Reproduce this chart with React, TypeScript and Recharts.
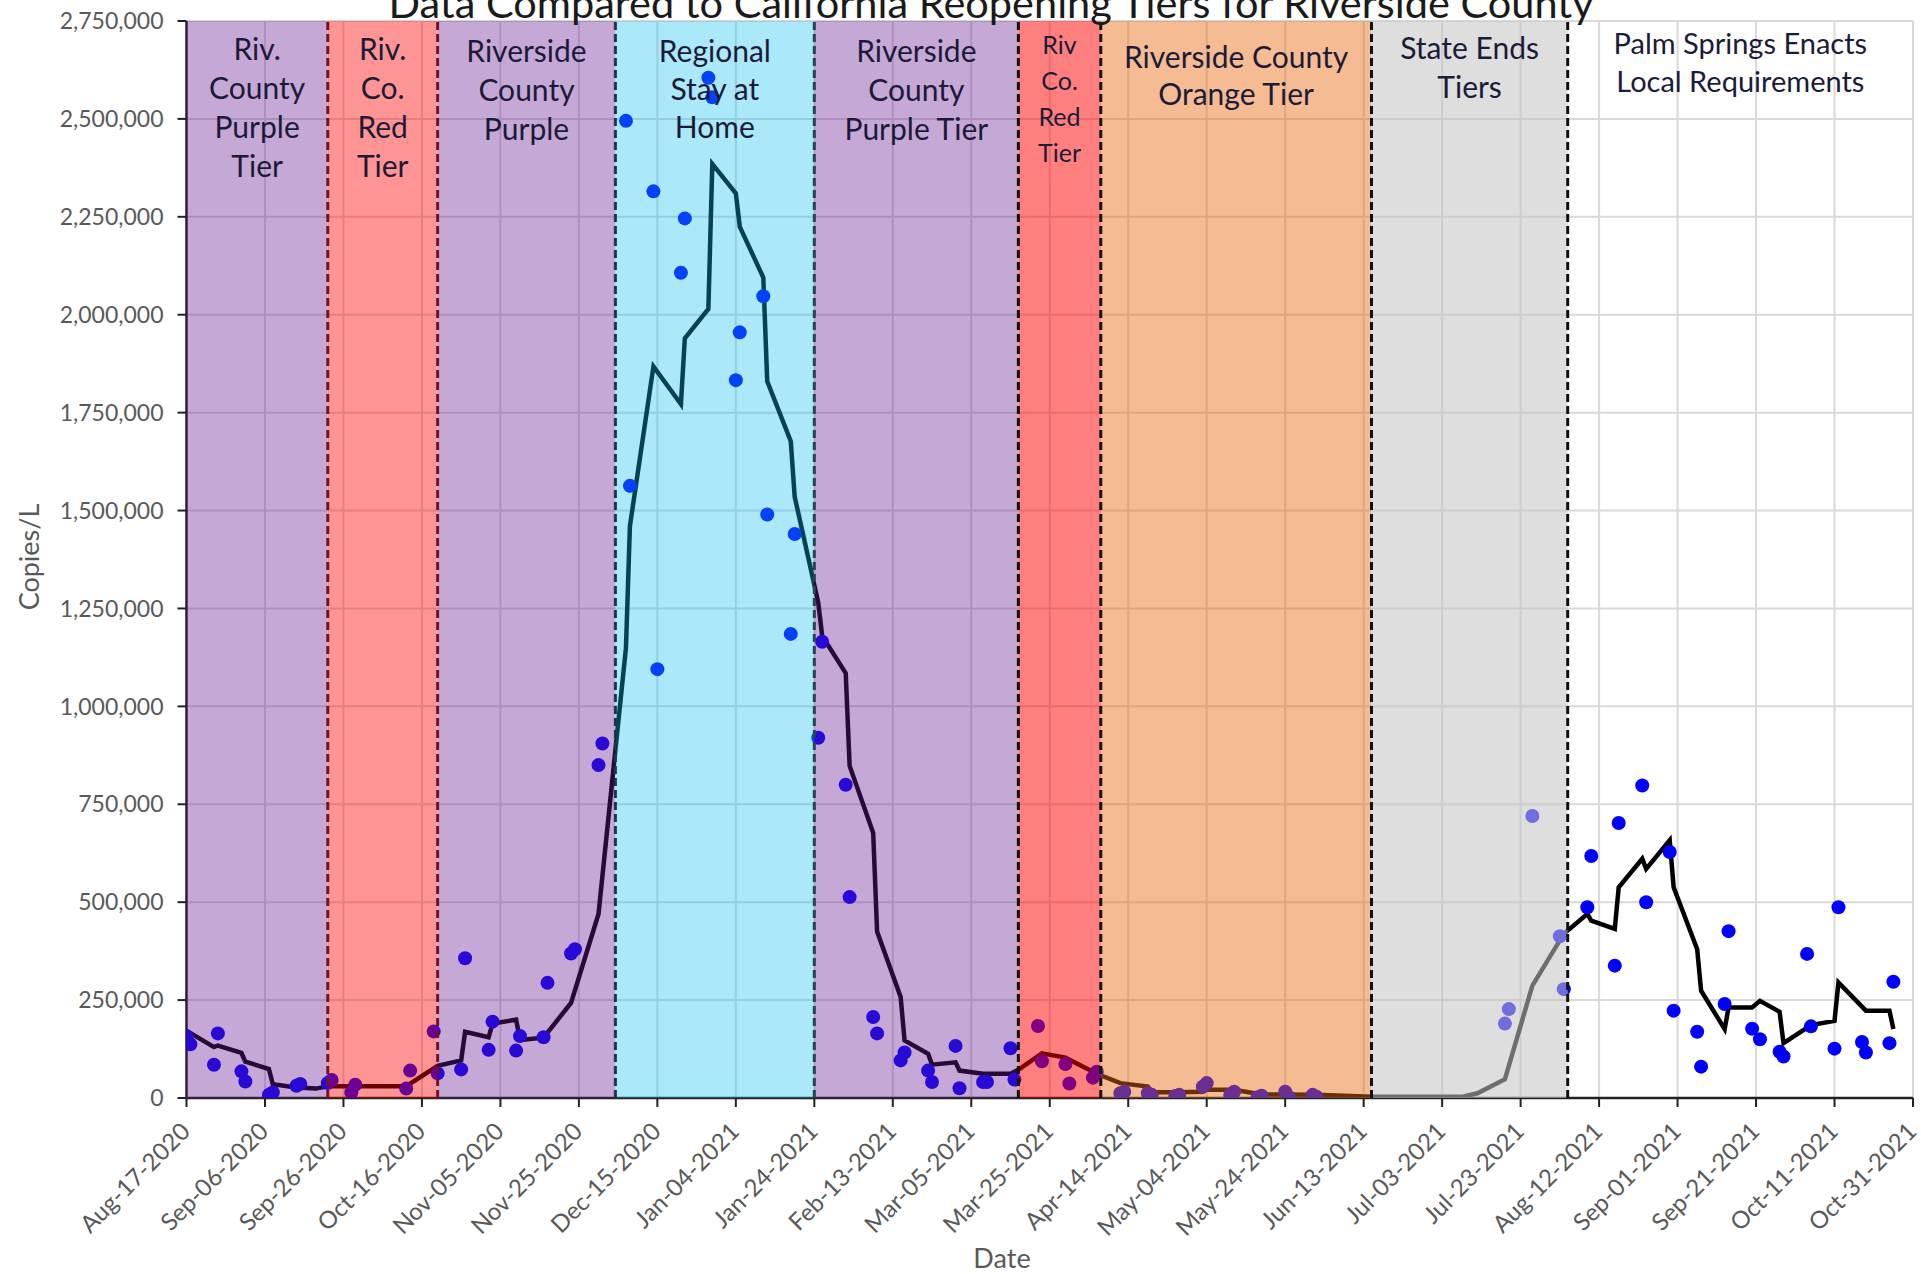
import React from "react";
import {
  CartesianGrid,
  ComposedChart,
  Line,
  ReferenceArea,
  ReferenceLine,
  Scatter,
  XAxis,
  YAxis,
} from "recharts";

// Days are counted from Aug-17-2020 (day 0); values are copies per litre.
const samples: [number, number][] = [
  [0, 157000], [1, 137000], [7, 85000], [8, 165000], [14, 68000], [15, 42000],
  [21, 8000], [22, 14000], [28, 31000], [29, 36000], [36, 38000], [37, 46000],
  [42, 14000], [43, 34000], [56, 24000], [57, 70000], [63, 170000], [64, 63000],
  [70, 73000], [71, 357000], [77, 123000], [78, 195000], [84, 121000], [85, 158000],
  [91, 155000], [92, 294000], [98, 369000], [99, 380000],
  [105, 850000], [106, 905000], [112, 2495000], [113, 1563000], [119, 2315000],
  [120, 1095000], [126, 2107000], [127, 2246000], [133, 2605000], [134, 2555000],
  [140, 1833000], [141, 1955000], [147, 2047000], [148, 1490000], [154, 1185000],
  [155, 1440000], [161, 920000], [162, 1165000],
  [168, 800000], [169, 513000], [175, 207000], [176, 165000], [182, 96000],
  [183, 116000], [189, 70000], [190, 41000], [196, 133000], [197, 25000],
  [203, 41000], [204, 41000], [210, 127000], [211, 47000], [217, 184000],
  [218, 94000], [224, 87000], [225, 37000], [231, 52000], [232, 67000],
  [238, 12000], [239, 16000], [245, 12000], [246, 8000], [252, 5000], [253, 8000],
  [259, 29000], [260, 38000], [266, 8000], [267, 16000], [273, 2000], [274, 6000],
  [280, 16000], [281, 2000], [287, 8000], [288, 3000],
  [336, 190000], [337, 227000], [343, 720000], [350, 413000], [351, 278000],
  [357, 487000], [358, 618000], [364, 338000], [365, 702000], [371, 798000],
  [372, 500000], [378, 628000], [379, 223000], [385, 169000], [386, 80000],
  [392, 240000], [393, 426000], [399, 177000], [401, 150000], [406, 118000],
  [407, 106000], [413, 368000], [414, 183000], [420, 126000], [421, 487000],
  [427, 143000], [428, 116000], [434, 140000], [435, 297000],
];

// rolling average line
const rollingAvg: [number, number][] = [
  [0, 172000], [7, 130000], [8, 134000], [14, 115000], [15, 93000], [21, 74000],
  [22, 35000], [28, 27000], [33, 24000], [36, 30000], [56, 30000], [64, 82000],
  [70, 96000], [71, 169000], [77, 155000], [78, 190000], [84, 200000], [85, 148000],
  [91, 154000], [98, 243000], [105, 470000], [112, 1150000], [113, 1460000],
  [119, 1868000], [126, 1772000], [127, 1940000], [133, 2015000], [134, 2385000],
  [140, 2310000], [141, 2225000], [147, 2095000], [148, 1830000], [154, 1677000],
  [155, 1535000], [161, 1265000], [162, 1180000], [168, 1085000], [169, 848000],
  [175, 677000], [176, 425000], [182, 258000], [183, 147000], [189, 113000],
  [190, 85000], [196, 91000], [197, 70000], [203, 62000], [210, 62000],
  [212, 72000], [218, 114000], [224, 103000], [232, 62000], [238, 38000],
  [245, 29000], [246, 15000], [252, 15000], [259, 16000], [260, 21000],
  [267, 21000], [274, 9000], [288, 8000], [302, 3000], [325, 3000], [329, 12000],
  [336, 48000], [343, 287000], [351, 419000], [357, 470000], [358, 453000],
  [364, 432000], [365, 538000], [371, 611000], [372, 585000], [378, 658000],
  [379, 538000], [385, 380000], [386, 274000], [392, 176000], [393, 231000],
  [399, 231000], [401, 248000], [406, 220000], [407, 140000], [414, 186000],
  [420, 197000], [421, 295000], [428, 223000], [434, 223000], [435, 176000],
];

// reopening tier periods (start day of each), last one runs to the axis end
const tierStarts = [0, 36, 64, 109.3, 160, 212, 233, 302, 352];
const LAST_DAY = 440;
const tierNames: string[][] = [
  ["Riv.", "County", "Purple", "Tier"],
  ["Riv.", "Co.", "Red", "Tier"],
  ["Riverside", "County", "Purple"],
  ["Regional", "Stay at", "Home"],
  ["Riverside", "County", "Purple Tier"],
  ["Riv", "Co.", "Red", "Tier"],
  ["Riverside County", "Orange Tier"],
  ["State Ends", "Tiers"],
  ["Palm Springs Enacts", "Local Requirements"],
];

const xTicks = Array.from({ length: 23 }, (_, i) => i * 20);
const xMinorTicks = Array.from({ length: 221 }, (_, i) => i * 2);
const yTicks = Array.from({ length: 12 }, (_, i) => i * 250000);
const yMinorTicks = Array.from({ length: 56 }, (_, i) => i * 50000);

// ---- styling ----
const FONT = "Lato, 'Open Sans', sans-serif";
const TEXT_GRAY = "#595959";
const LABEL_INK = "#1b1b38";
// translucent overlays, so the line and dots under them take the band's tint
const tierFills = [
  "rgba(103,26,147,0.38)",
  "rgba(255,0,0,0.42)",
  "rgba(103,26,147,0.38)",
  "rgba(11,189,240,0.35)",
  "rgba(103,26,147,0.38)",
  "rgba(255,0,0,0.5)",
  "rgba(233,107,18,0.45)",
  "rgba(196,196,196,0.56)",
  "none",
];
const boundaryColors = ["", "#7a0f2a", "#7a0f2a", "#25304c", "#1b4a55", "#111", "#111", "#111", "#111"];
// font size, first baseline below plot top, line gap
const tierLabelLayout: [number, number, number][] = [
  [30, 39, 39], [30, 39, 39], [30, 41, 39], [30, 41, 38], [30, 41, 39],
  [25, 33, 36], [30, 47, 37], [30, 38, 39], [29, 33, 38],
];

const MONTHS = ["Jan", "Feb", "Mar", "Apr", "May", "Jun", "Jul", "Aug", "Sep", "Oct", "Nov", "Dec"];
function dayLabel(d: number) {
  const dt = new Date(2020, 7, 17 + d);
  return `${MONTHS[dt.getMonth()]}-${String(dt.getDate()).padStart(2, "0")}-${dt.getFullYear()}`;
}

const sampleRows = samples.map(([day, copies]) => ({ day, copies }));
const avgRows = rollingAvg.map(([day, copies]) => ({ day, copies }));

function DateTick(props: any) {
  const { x, y, payload } = props;
  const ax = x + 5;
  const ay = y + 24;
  return (
    <text
      x={ax}
      y={ay}
      transform={`rotate(-45 ${ax} ${ay})`}
      textAnchor="end"
      fill={TEXT_GRAY}
      fontSize={24}
      fontFamily={FONT}
    >
      {dayLabel(payload.value)}
    </text>
  );
}

function TierLabel(props: any) {
  const { viewBox, idx } = props;
  if (!viewBox) return null;
  const [fs, first, gap] = tierLabelLayout[idx];
  const cx = viewBox.x + viewBox.width / 2;
  return (
    <g>
      {tierNames[idx].map((line, i) => (
        <text
          key={i}
          x={cx}
          y={viewBox.y + first + i * gap}
          textAnchor="middle"
          fontSize={fs}
          fontFamily={FONT}
          fill={LABEL_INK}
        >
          {line}
        </text>
      ))}
    </g>
  );
}

const SampleDot = (p: any) => <circle cx={p.cx} cy={p.cy} r={7} fill="#0000FF" />;

export default function App() {
  const W = 1921;
  const H = 1274;
  return (
    <div style={{ position: "relative", width: W, height: H, background: "#fff" }}>
      <style>{"body{margin:0}"}</style>
      <ComposedChart width={W} height={H} margin={{ top: 21, right: 8, bottom: 0, left: 0 }}>
        <CartesianGrid stroke="#D9D9D9" strokeWidth={2} />
        <XAxis
          dataKey="day"
          type="number"
          domain={[0, LAST_DAY]}
          allowDataOverflow
          ticks={xTicks}
          interval={0}
          height={176}
          tick={<DateTick />}
          tickSize={9}
          tickLine={{ stroke: "#222", strokeWidth: 2 }}
          axisLine={{ stroke: "#222", strokeWidth: 2.5 }}
        />
        <XAxis
          xAxisId="minor"
          type="number"
          domain={[0, LAST_DAY]}
          allowDataOverflow
          ticks={xMinorTicks}
          interval={0}
          mirror
          height={1}
          tick={false}
          tickSize={8}
          tickLine={{ stroke: "#222", strokeWidth: 1.5 }}
          axisLine={false}
        />
        <YAxis
          type="number"
          domain={[0, 2750000]}
          allowDataOverflow
          ticks={yTicks}
          interval={0}
          width={186.5}
          tickSize={9}
          tickMargin={14}
          tickFormatter={(v: number) => v.toLocaleString("en-US")}
          tick={{ fill: TEXT_GRAY, fontSize: 23, fontFamily: FONT }}
          tickLine={{ stroke: "#222", strokeWidth: 2 }}
          axisLine={{ stroke: "#222", strokeWidth: 2.5 }}
        />
        <YAxis
          yAxisId="minor"
          type="number"
          domain={[0, 2750000]}
          allowDataOverflow
          ticks={yMinorTicks}
          interval={0}
          mirror
          width={1}
          tick={false}
          tickSize={9}
          tickLine={{ stroke: "#222", strokeWidth: 1.5 }}
          axisLine={false}
        />
        <Line
          data={avgRows}
          dataKey="copies"
          type="linear"
          stroke="#000"
          strokeWidth={4.5}
          dot={false}
          isAnimationActive={false}
        />
        <Scatter data={sampleRows} dataKey="copies" shape={SampleDot} isAnimationActive={false} />
        {tierStarts.map((start, i) => (
          <ReferenceArea
            key={`tier-${i}`}
            x1={start}
            x2={i + 1 < tierStarts.length ? tierStarts[i + 1] : LAST_DAY}
            y1={0}
            y2={2750000}
            fill={tierFills[i]}
            fillOpacity={1}
            stroke="none"
            zIndex={700}
            label={<TierLabel idx={i} />}
          />
        ))}
        {tierStarts.slice(1).map((start, i) => (
          <ReferenceLine
            key={`edge-${i}`}
            x={start}
            stroke={boundaryColors[i + 1]}
            strokeWidth={3}
            strokeDasharray="8 4"
            zIndex={800}
          />
        ))}
      </ComposedChart>
      <svg
        width={W}
        height={H}
        style={{ position: "absolute", left: 0, top: 0, pointerEvents: "none" }}
      >
        <text x={991} y={18} textAnchor="middle" fontSize={41.5} fontFamily={FONT} fill="#1a1a1a">
          Data Compared to California Reopening Tiers for Riverside County
        </text>
        <text x={1002} y={1268} textAnchor="middle" fontSize={27} fontFamily={FONT} fill={TEXT_GRAY}>
          Date
        </text>
        <text
          x={39}
          y={557}
          transform="rotate(-90 39 557)"
          textAnchor="middle"
          fontSize={27}
          fontFamily={FONT}
          fill={TEXT_GRAY}
        >
          Copies/L
        </text>
      </svg>
    </div>
  );
}
